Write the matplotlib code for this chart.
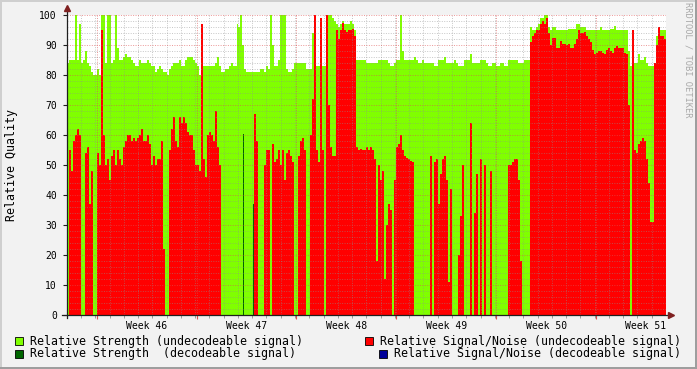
import numpy as np
import matplotlib
matplotlib.use('Agg')
import matplotlib.pyplot as plt
from matplotlib.patches import Rectangle
from matplotlib import transforms

# one value per ~3.4 h bin (6 weeks)
strength_undec = [
    84, 85, 85, 85, 100, 85, 97, 84, 85, 88,
    84, 83, 81, 80, 80, 82, 80, 100, 100, 84,
    100, 100, 84, 85, 100, 89, 85, 85, 86, 87,
    86, 86, 85, 84, 83, 83, 85, 84, 84, 84,
    85, 84, 83, 83, 81, 82, 83, 82, 81, 81,
    80, 82, 83, 84, 84, 84, 85, 83, 83, 85,
    86, 86, 86, 85, 84, 83, 80, 83, 83, 83,
    83, 83, 83, 83, 84, 86, 83, 81, 81, 82,
    82, 83, 84, 83, 83, 97, 96, 100, 90, 82,
    81, 81, 81, 81, 81, 81, 81, 82, 82, 81,
    83, 82, 100, 90, 83, 83, 85, 100, 100, 100,
    82, 81, 81, 82, 84, 84, 84, 84, 84, 84,
    82, 82, 82, 94, 100, 83, 83, 83, 83, 83,
    100, 100, 100, 99, 98, 97, 96, 97, 98, 97,
    97, 97, 98, 97, 95, 85, 85, 85, 85, 85,
    84, 84, 84, 84, 84, 84, 85, 85, 85, 85,
    85, 84, 83, 83, 84, 85, 85, 100, 88, 85,
    85, 85, 85, 85, 86, 85, 84, 84, 85, 84,
    84, 84, 84, 84, 83, 83, 85, 85, 85, 86,
    84, 84, 84, 84, 85, 84, 83, 83, 83, 85,
    85, 85, 87, 84, 84, 84, 84, 85, 85, 85,
    84, 83, 83, 84, 84, 83, 83, 84, 84, 83,
    83, 85, 85, 85, 85, 85, 84, 84, 84, 85,
    85, 85, 96, 95, 95, 96, 97, 99, 99, 100,
    100, 96, 95, 96, 96, 95, 95, 95, 95, 95,
    95, 95.5, 95.5, 95.5, 95.5, 97, 97, 96, 96, 96,
    95, 95, 95, 95, 95, 95, 95, 96, 95, 95,
    95, 95, 95.5, 95.5, 96.5, 95, 95, 95, 95, 95,
    95, 88, 83, 84, 84, 84, 87, 85, 85, 86,
    84, 83, 83, 83, 84, 93, 95, 95, 95, 95,
]

snr_undec = [
    0, 55, 48, 58, 60, 62, 60, 0, 0, 54,
    56, 37, 48, 0, 0, 54, 50, 95, 60, 50,
    52, 45, 53, 55, 50, 55, 52, 50, 56, 58,
    60, 60, 58, 59, 58, 59, 60, 62, 58, 58,
    60, 57, 50, 53, 50, 52, 52, 58, 22, 0,
    0, 55, 62, 66, 58, 56, 66, 64, 66, 64,
    61, 60, 60, 55, 50, 50, 48, 97, 52, 46,
    60, 61, 60, 58, 68, 56, 50, 0, 0, 0,
    0, 0, 0, 0, 0, 0, 0, 0, 0, 0,
    0, 0, 0, 0, 67, 58, 0, 0, 0, 50,
    55, 55, 0, 57, 51, 52, 55, 50, 55, 45,
    54, 55, 53, 51, 0, 0, 53, 58, 59, 55,
    0, 0, 60, 72, 100, 55, 51, 99, 55, 0,
    100, 70, 56, 53, 53, 95, 92, 95, 97.5, 95,
    94.5, 95, 95, 95.5, 93, 56, 55, 55.5, 55, 55,
    56, 55, 56, 55, 52, 18, 50, 45, 48, 12,
    30, 37, 35, 0, 45, 56, 57, 60, 55, 53,
    52.5, 52, 51.5, 51, 0, 0, 0, 0, 0, 0,
    0, 0, 53, 0, 51, 52, 37, 47, 52, 53,
    45, 11, 42, 0, 0, 0, 20, 33, 50, 0,
    0, 0, 64, 0, 34, 47, 0, 52, 0, 50,
    0, 0, 48, 0, 0, 0, 0, 0, 0, 0,
    0, 50, 50, 51, 52, 52, 45, 18, 0, 0,
    0, 0, 91, 93, 94, 95, 95, 97, 98, 97,
    99, 94, 90, 92.5, 92.5, 89, 89, 91.5, 90.5, 90.5,
    90, 90.5, 89, 89, 90.5, 92, 95, 94, 94, 94.5,
    93, 92, 91, 88.5, 87, 87.5, 88, 88, 87.5, 87,
    88.3, 89, 88, 87.5, 89, 89.7, 89, 89, 89, 87.5,
    87, 70, 0, 95, 55, 54, 57, 58, 59, 58,
    52, 44, 31, 31, 84, 90, 96, 93, 93, 92,
]

# few samples where the decodeable strength shows
strength_dec_bins = [88, 93]
strength_dec_vals = [60.5, 37]

week_names = ['Week 46', 'Week 47', 'Week 48', 'Week 49', 'Week 50', 'Week 51']
first_week_start = 2.1   # days from left edge of graph
span_days = 42

legend_labels = ['Relative Strength (undecodeable signal)',
                 'Relative Signal/Noise (undecodeable signal)',
                 'Relative Strength  (decodeable signal)',
                 'Relative Signal/Noise (decodeable signal)']
legend_colors = ['#80ff00', '#ff0000', '#006600', '#000099']

W, H = 697, 369
MONO = 'DejaVu Sans Mono'

fig = plt.figure(figsize=(W / 100, H / 100), dpi=100, facecolor='#f2f2f2')
ax = fig.add_axes([66.7 / W, 54 / H, 599.3 / W, 300 / H])
ax.set_facecolor('white')

step = span_days / len(strength_undec)
edges = np.arange(len(strength_undec) + 1) * step
ax.stairs(strength_undec, edges, fill=True, color='#80ff00', lw=0, zorder=1)
ax.stairs(snr_undec, edges, fill=True, color='#ff0000', lw=0, zorder=1.1)
ax.bar(edges[strength_dec_bins] + step * 0.25, strength_dec_vals, width=step * 0.5,
       align='edge', color='#006600', lw=0, zorder=1.2)

ax.set_xlim(0, span_days)
ax.set_ylim(0, 100)

# grid: days / weeks, 2 / 10 units
week_edges = first_week_start + 7 * np.arange(6)
ax.set_xticks(week_edges)
ax.set_xticks(np.arange(1, span_days), minor=True)
ax.set_yticks(np.arange(0, 101, 10))
ax.set_yticks(np.arange(0, 101, 2), minor=True)
ax.set_xticklabels([])
ax.set_axisbelow(False)
ax.grid(which='minor', color='#8f8f8f', alpha=0.5, lw=0.7, ls=(0, (1, 1.5)))
ax.grid(which='major', color='#de5050', alpha=0.6, lw=0.7, ls=(0, (1, 1.5)))

for s in ax.spines.values():
    s.set_visible(False)
ax.tick_params(axis='y', which='major', length=3, width=0.8, color='#1f1f1f', pad=4,
               labelsize=7)
ax.tick_params(axis='y', which='minor', length=0)
ax.tick_params(axis='x', which='major', length=3, width=0.8, color='#de5050')
ax.tick_params(axis='x', which='minor', length=2, width=0.6, color='#8f8f8f')
for lab in ax.get_yticklabels():
    lab.set_family(MONO)

# week labels centred in each week
tr = transforms.blended_transform_factory(ax.transData, ax.transAxes)
for wk, name in zip(week_edges, week_names):
    ax.text(wk + 3.5, -0.037, name, transform=tr, ha='center', va='center',
            family=MONO, fontsize=7)

# axes with arrows
ax.plot([0, 0], [-1, 102], color='#1f1f1f', lw=0.9, clip_on=False, zorder=5)
ax.plot([-0.3, 42.2], [0, 0], color='#1f1f1f', lw=0.9, clip_on=False, zorder=5)
ax.plot([0], [102.3], marker='^', ms=4.5, color='#7f2020', clip_on=False, zorder=6)
ax.plot([42.35], [0], marker='>', ms=4.5, color='#7f2020', clip_on=False, zorder=6)

fig.text(12 / W, 1 - 165 / H, 'Relative Quality', rotation=90, ha='center',
         va='center', family=MONO, fontsize=8.4)
fig.text(688 / W, 1 - 60 / H, 'RRDTOOL / TOBI OETIKER', rotation=270, ha='center',
         va='center', family=MONO, fontsize=6.3, color='#a8a8a8')

# legend, two columns
spots = [(15, 341, 30), (365, 341, 380), (15, 354, 30), (379, 354, 394)]
for (bx, cy, tx), lab, col in zip(spots, legend_labels, legend_colors):
    fig.patches.append(Rectangle((bx / W, (H - cy - 4) / H), 8 / W, 8 / H,
                                 transform=fig.transFigure, facecolor=col,
                                 edgecolor='black', lw=0.6))
    fig.text(tx / W, 1 - cy / H, lab, ha='left', va='center', family=MONO,
             fontsize=8.37)

# 3d frame
fig.patches.append(Rectangle((0, 0), 2 / W, 1, transform=fig.transFigure,
                             color='#cfcfcf', lw=0))
fig.patches.append(Rectangle((0, 1 - 2 / H), 1, 2 / H, transform=fig.transFigure,
                             color='#cfcfcf', lw=0))
fig.patches.append(Rectangle((0, 0), 1, 2 / H, transform=fig.transFigure,
                             color='#9e9e9e', lw=0))
fig.patches.append(Rectangle((1 - 2 / W, 0), 2 / W, 1, transform=fig.transFigure,
                             color='#9e9e9e', lw=0))

fig.savefig('out.png', dpi=100, facecolor=fig.get_facecolor())
